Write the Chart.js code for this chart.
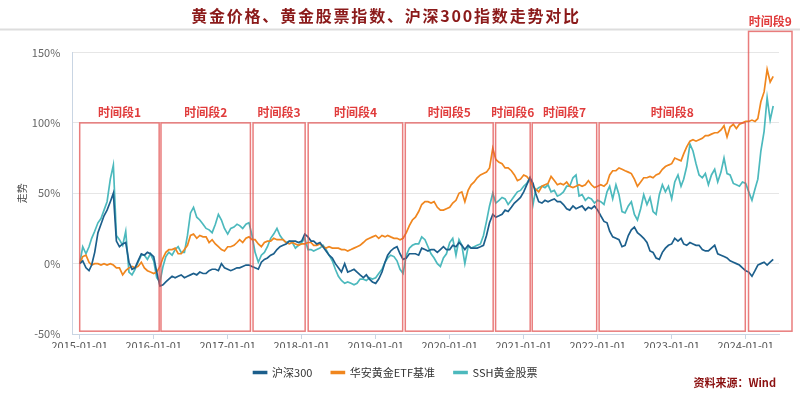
<!DOCTYPE html>
<html>
<head>
<meta charset="utf-8">
<script src="https://cdn.jsdelivr.net/npm/chart.js@4/dist/chart.umd.min.js"></script>
<style>
  html, body { margin: 0; padding: 0; background: #fff; }
</style>
</head>
<body>
<canvas id="trendChart" width="800" height="396"></canvas>
<script>
// semi-monthly sample dates (1st and 16th), 2015-01-01 .. 2024-05-16
const dates = [];
for (let yr = 2015; yr <= 2024; yr++) {
  for (let m = 1; m <= 12; m++) {
    for (const d of [1, 16]) {
      if (yr === 2024 && m > 5) continue;
      dates.push(`${yr}-${String(m).padStart(2, '0')}-${String(d).padStart(2, '0')}`);
    }
  }
}

// 走势 (%)
const hs300 = [
  0, 2, -3, -5, -1, 8, 22, 28, 34, 38,
  44, 50, 16, 12, 14, 15, 1, -4, -3, 2,
  7, 6, 8, 7, 5, -6, -16, -15, -13, -11,
  -9, -10, -9, -8, -10, -9, -8, -7, -8, -6,
  -7, -7, -5, -4, -4, -5, 0, -3, -4, -5,
  -4, -3, -3, -2, -1, -1, -2, -3, -4, 1,
  3, 4, 6, 7, 10, 12, 13, 14, 16, 16,
  16, 15, 16, 21, 19, 16, 16, 14, 15, 12,
  9, 6, 4, 0, -3, -6, 0, -6, -5, -4,
  -6, -8, -10, -8, -11, -13, -14, -11, -6, 1,
  6, 9, 11, 12, 7, 3, 4, 7, 7, 7,
  6, 11, 10, 9, 10, 10, 8, 10, 12, 10,
  10, 13, 12, 15, 13, 10, 13, 11, 11, 11,
  12, 13, 20, 29, 35, 33, 34, 35, 38, 37,
  40, 43, 45, 47, 51, 56, 61, 57, 50, 44,
  43, 45, 44, 45, 46, 44, 44, 42, 39, 38,
  41, 39, 40, 41, 38, 40, 39, 41, 38, 34,
  30, 29, 23, 19, 18, 17, 12, 13, 20, 24,
  26, 22, 20, 18, 15, 9, 8, 4, 3, 8,
  11, 13, 14, 18, 16, 18, 14, 13, 15, 14,
  13, 13, 10, 9, 9, 11, 13, 7, 6, 5,
  4, 2, 1, 0, -1, -3, -5, -6, -9, -5,
  -1, 0, 1, -1, 1, 3
];
const etfGold = [
  0, 5, 6, 1, -1, 0, 0, -1, 0, -1,
  0, -1, -3, -3, -8, -5, -3, -2, -3, -2,
  1, -3, -5, -6, -7, -6, -2, 4, 8, 10,
  10, 11, 7, 7, 10, 13, 20, 21, 18, 20,
  19, 19, 15, 17, 14, 12, 10, 9, 12, 12,
  13, 15, 17, 15, 18, 19, 17, 17, 14, 12,
  15, 16, 16, 18, 17, 17, 17, 15, 14, 15,
  14, 13, 14, 14, 15, 15, 13, 13, 14, 12,
  11, 12, 11, 11, 11, 10, 10, 9, 10, 11,
  12, 13, 15, 17, 18, 19, 20, 18, 20, 19,
  20, 19, 18, 18, 17, 18, 22, 27, 31, 33,
  37, 42, 44, 44, 43, 44, 40, 38, 38, 39,
  40, 43, 45, 50, 51, 44, 52, 56, 58, 61,
  63, 64, 65, 68, 82, 74, 72, 71, 68, 68,
  66, 63, 59, 60, 63, 62, 59, 55, 53, 51,
  55, 56, 57, 62, 59, 56, 57, 56, 58, 55,
  54, 55, 56, 55, 56, 59, 56, 54, 55, 56,
  55, 57, 63, 66, 66, 68, 67, 66, 65, 64,
  60, 55, 58, 61, 61, 62, 61, 63, 64, 67,
  69, 70, 71, 75, 74, 73, 78, 83, 87, 88,
  87, 88, 89, 91, 91, 92, 93, 93, 95, 98,
  90, 97, 99, 96, 99, 100, 101, 101, 102, 101,
  103, 115, 122, 138, 129, 133
];
const sshGold = [
  0, 12, 7, 12, 18, 23, 29, 32, 38, 44,
  60, 70, 20, 17, 13, 23, -6, -8, -4, 1,
  6, 6, 3, 7, 2, -10, -13, -2, 5, 8,
  6, 10, 12, 8, 8, 20, 36, 40, 33, 31,
  28, 25, 24, 22, 28, 35, 31, 25, 21, 25,
  26, 28, 27, 25, 28, 29, 20, 8, 1, 6,
  8, 12, 18, 21, 25, 20, 17, 15, 16, 15,
  11, 13, 15, 18, 10, 10, 9, 10, 11, 13,
  10, 6, 2, -4, -9, -12, -14, -13, -14, -15,
  -14, -11, -11, -12, -10, -11, -10, -7, -4, 1,
  4, 6, 5, 2, -4, -7, 6, 11, 13, 14,
  14, 19, 17, 12, 7, 4, 0, -2, 4, 7,
  15, 18, 6, 17, 13, 0, 12, 11, 12, 13,
  14, 20, 30, 41, 50, 43, 45, 47, 46, 42,
  45, 48, 51, 52, 55, 57, 61, 42, 52, 54,
  55, 54, 56, 51, 52, 48, 49, 51, 55, 55,
  61, 63, 48, 49, 45, 47, 46, 43, 45, 44,
  42, 51, 55, 46, 56, 49, 37, 36, 41, 44,
  35, 31, 39, 49, 42, 47, 37, 35, 49, 56,
  51, 55, 46, 58, 63, 55, 60, 69, 85, 80,
  71, 63, 61, 64, 56, 63, 67, 58, 65, 75,
  64, 63, 57, 56, 55, 58, 57, 51, 45, 53,
  60, 80, 94, 118, 102, 112
];

const yearTicks = [0, 1, 2, 3, 4, 5, 6, 7, 8, 9];

// 时间段 boxes
const periodNames = ['时间段1', '时间段2', '时间段3', '时间段4', '时间段5', '时间段6', '时间段7', '时间段8', '时间段9'];
const periodStart = ['2015-01-01', '2016-02-06', '2017-05-06', '2018-02-02', '2019-05-27', '2020-08-15', '2021-02-12', '2022-01-08', '2024-01-15'];
const periodEnd = ['2016-01-28', '2017-04-23', '2018-01-18', '2019-05-14', '2020-08-03', '2021-02-02', '2021-12-27', '2023-12-30', '2024-08-17'];
const periodTop = [100, 100, 100, 100, 100, 100, 100, 100, 165];
const periodBottom = -48;

const titleText = '黄金价格、黄金股票指数、沪深300指数走势对比';
const sourceText = '资料来源：Wind';

// date string -> years since 2015-01-01
function toX(s) {
  const [y, m, d] = s.split('-').map(Number);
  const start = Date.UTC(y, 0, 1);
  const end = Date.UTC(y + 1, 0, 1);
  return y - 2015 + (Date.UTC(y, m - 1, d) - start) / (end - start);
}

const xs = dates.map(toX);
const toPoints = arr => arr.map((v, i) => ({ x: xs[i], y: v }));

const FONT = "'Noto Sans CJK SC', 'Noto Sans', sans-serif";

const decorPlugin = {
  id: 'decor',
  beforeDraw(chart) {
    const { ctx, width } = chart;
    ctx.save();
    // title + rule under it
    ctx.fillStyle = '#8b1a1a';
    ctx.font = `bold 16px ${FONT}`;
    ctx.letterSpacing = '1.8px';
    ctx.textAlign = 'center';
    ctx.textBaseline = 'middle';
    ctx.fillText(titleText, 386, 16);
    ctx.letterSpacing = '0px';
    ctx.strokeStyle = '#dddddd';
    ctx.lineWidth = 2;
    ctx.beginPath();
    ctx.moveTo(0, 29.5);
    ctx.lineTo(width, 29.5);
    ctx.stroke();
    ctx.restore();
  },
  afterDatasetsDraw(chart) {
    const { ctx, scales: { x, y } } = chart;
    ctx.save();
    periodNames.forEach((name, i) => {
      const x0 = x.getPixelForValue(toX(periodStart[i]));
      const x1 = x.getPixelForValue(toX(periodEnd[i]));
      const y0 = y.getPixelForValue(periodTop[i]);
      const y1 = y.getPixelForValue(periodBottom);
      ctx.strokeStyle = 'rgba(226, 80, 80, 0.75)';
      ctx.lineWidth = 1.5;
      ctx.strokeRect(x0, y0, x1 - x0, y1 - y0);
      ctx.fillStyle = '#e03c3c';
      ctx.font = `bold 12px ${FONT}`;
      ctx.textAlign = 'center';
      ctx.textBaseline = 'middle';
      ctx.fillText(name, (x0 + x1) / 2, y0 - 10);
    });
    // source note
    ctx.fillStyle = '#8b1010';
    ctx.font = `bold 11px ${FONT}`;
    ctx.textAlign = 'right';
    ctx.textBaseline = 'middle';
    ctx.fillText(sourceText, 776, 383);
    ctx.restore();
  }
};

const ctx = document.getElementById('trendChart').getContext('2d');
const chart = new Chart(ctx, {
  type: 'line',
  data: {
    datasets: [
      { label: '沪深300', data: toPoints(hs300), borderColor: '#1c5f8c', backgroundColor: '#1c5f8c' },
      { label: '华安黄金ETF基准', data: toPoints(etfGold), borderColor: '#f0861e', backgroundColor: '#f0861e' },
      { label: 'SSH黄金股票', data: toPoints(sshGold), borderColor: '#4cb9bd', backgroundColor: '#4cb9bd' },
    ],
  },
  options: {
    responsive: false,
    animation: false,
    devicePixelRatio: 1,
    elements: {
      line: { borderWidth: 1.7, tension: 0 },
      point: { radius: 0 },
    },
    layout: { padding: { left: 12, right: 21, top: 52.5, bottom: 8 } },
    scales: {
      x: {
        type: 'linear',
        min: -0.1,
        max: 9.45,
        afterBuildTicks: axis => { axis.ticks = yearTicks.map(v => ({ value: v })); },
        afterFit: axis => { axis.height = 14; },
        ticks: {
          callback: v => `${2015 + v}-01-01`,
          color: '#555',
          font: { size: 11, family: FONT },
          padding: 0,
          maxRotation: 0,
          autoSkip: false,
        },
        grid: { drawOnChartArea: false, tickLength: 5, color: '#c9d5e3' },
        border: { color: '#c9d5e3' },
      },
      y: {
        min: -50,
        max: 150,
        afterFit: axis => { axis.width = 60.3; },
        ticks: {
          stepSize: 50,
          callback: v => `${v}%`,
          color: '#666',
          font: { size: 11, family: FONT },
          padding: 12,
        },
        grid: { color: '#e6e6e6', drawTicks: false },
        border: { color: '#c9d5e3' },
        title: { display: true, text: '走势', color: '#444', font: { size: 10, family: FONT }, padding: 4 },
      },
    },
    plugins: {
      title: { display: false },
      legend: {
        position: 'bottom',
        labels: {
          boxWidth: 13,
          boxHeight: 2,
          color: '#333',
          font: { size: 11, family: FONT },
          padding: 19,
        },
      },
      tooltip: { enabled: false },
    },
  },
  plugins: [decorPlugin],
});
</script>
</body>
</html>
